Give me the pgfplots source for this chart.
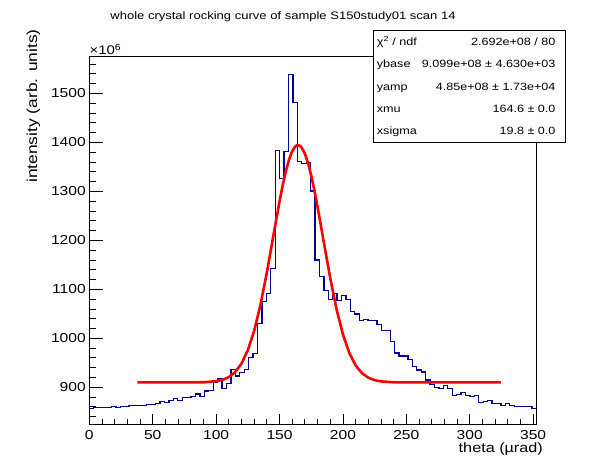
\documentclass[border=0pt]{standalone}
\usepackage{fontspec}
\setmainfont{Liberation Sans}[FakeStretch=1.2]
\usepackage{pgfplots}
\pgfplotsset{compat=1.18}
\definecolor{histblue}{RGB}{0,0,153}
\pgfplotstableread{
x y
0 856
3.49 858
6.98 858
10.47 858
13.96 858
17.45 860.4
20.94 859
24.43 861
27.92 861
31.41 863
34.90 863
38.39 863
41.88 863
45.37 865
48.86 865
52.35 867
55.84 870.6
59.33 869
62.82 873
66.31 876.8
69.80 873
73.29 879.6
76.78 879.6
80.27 881.6
83.76 886
87.25 881.6
90.74 892.4
94.23 894
97.72 910
101.21 917
104.70 898
108.19 907
111.68 936.7
115.17 923
118.66 930.6
122.15 936.7
125.64 961
129.13 969
132.62 1030.6
136.11 1074.7
139.60 1091.8
143.09 1142.9
146.58 1383.7
150.07 1326.5
153.56 1381.6
157.05 1538.8
160.54 1481.6
164.03 1361.2
167.52 1357.1
171.01 1359.2
174.50 1301
177.99 1159.8
181.48 1125.7
184.97 1097.1
188.46 1079.6
191.95 1091.8
195.44 1076.7
198.93 1087.8
202.42 1079.6
205.91 1055
209.40 1049.6
212.89 1036.7
216.38 1038.8
219.87 1036.7
223.36 1036.7
226.85 1028.6
230.34 1016.3
233.83 1016.3
237.32 993.9
240.81 970
244.30 963.9
247.79 963.9
251.28 957.1
254.77 942
258.26 935.3
261.75 931.2
265.24 914.9
268.73 906.1
272.22 900
275.71 898
279.20 904
282.69 898
286.18 883.7
289.67 885
293.16 889.8
296.65 883.7
300.14 881.6
303.63 883.7
307.12 869.4
310.61 871.4
314.10 873.5
317.59 867.3
321.08 867.3
324.57 863.3
328.06 867.3
331.55 863.3
335.04 861.2
338.53 861.2
342.02 861.2
345.51 861.2
349.00 857.1
352.49 857.1
}\histdata
\begin{document}
\begin{tikzpicture}[x=1pt,y=1pt]
\path[use as bounding box] (0,0) rectangle (596,472);
\begin{axis}[at={(89.3pt,48pt)}, anchor=south west, scale only axis,
  width=447pt, height=367.3pt,
  xmin=0, xmax=352.5, ymin=825, ymax=1575,
  axis line style={line width=0.9pt},
  xtick=\empty,
  ytick={900,1000,...,1500}, minor ytick={840,860,...,1560},
  ytick pos=left, tick align=inside,
  major tick length=13.4pt, minor tick length=6.7pt,
  tick style={black, line width=0.8pt},
  yticklabel style={font=\fontsize{13}{13}\selectfont},
  /pgf/number format/assume math mode=true,
  /pgf/number format/1000 sep={},
  scaled y ticks=false,
]
\addplot[const plot mark left, histblue, line width=1.3pt, no marks] table[x=x,y=y] {\histdata};
\addplot[red, line width=2.6pt, no marks, line join=round] coordinates {
(38,909.9) (80,909.95) (90,910.3) (100,912.3) (105,915.1) (110,920.7) (115,930.9)
(120,948.3) (125,975.5) (130,1015.2) (135,1068.6) (140,1134.1) (145,1207.0)
(150,1279.5) (152.5,1312.3) (155,1341.1) (157.5,1364.7) (160,1382.0) (162.5,1392.2)
(164.6,1394.9) (167,1391.3) (170,1377.2) (172.5,1357.8) (175,1332.4) (177.5,1302.2)
(180,1268.3) (185,1195.1) (190,1122.9) (195,1059.1) (200,1008.0) (205,970.4)
(210,944.9) (215,928.9) (220,919.6) (225,914.5) (230,912.0) (240,910.2)
(250,909.9) (324.5,909.9)};
\end{axis}
\begin{axis}[at={(89.3pt,48pt)}, anchor=south west, scale only axis,
  width=447pt, height=367.3pt,
  xmin=0, xmax=352.5, ymin=825, ymax=1575,
  axis line style={draw=none},
  ytick=\empty,
  xtick={0,50,...,350}, minor xtick={10,20,...,350},
  xtick pos=left, tick align=inside,
  major tick length=10pt, minor tick length=5.5pt,
  tick style={black, line width=0.8pt},
  xticklabel style={font=\fontsize{13}{13}\selectfont, yshift=-3pt},
  /pgf/number format/assume math mode=true,
  /pgf/number format/1000 sep={},
  scaled x ticks=false,
]
\end{axis}
% title and labels
\node[anchor=base, inner sep=0] at (283,452) {\fontsize{10.85}{12}\selectfont whole crystal rocking curve of sample S150study01 scan 14};
\node[anchor=base east, inner sep=0] at (543,19.7) {\fontsize{13.5}{15}\selectfont theta (µrad)};
\node[anchor=base west, inner sep=0, rotate=90] at (37,289) {\fontsize{14.5}{16}\selectfont intensity (arb. units)};
\node[anchor=base west, inner sep=0] at (89.3,417.5) {\fontsize{12.5}{14}\selectfont ×10\textsuperscript{6}};
% stats box
\draw[fill=white, line width=0.9pt] (373.3,329.7) rectangle (565.7,442);
\begin{scope}[every node/.style={inner sep=0, font=\fontsize{10.5}{12}\selectfont}]
\node[anchor=base west] at (376.7,426.4) {χ\textsuperscript{2} / ndf};
\node[anchor=base east] at (555.7,426.4) {2.692e+08 / 80};
\node[anchor=base west] at (376.7,404) {ybase};
\node[anchor=base east] at (555.7,404) {9.099e+08 ± 4.630e+03};
\node[anchor=base west] at (376.7,381.7) {yamp};
\node[anchor=base east] at (555.7,381.7) {4.85e+08 ± 1.73e+04};
\node[anchor=base west] at (376.7,359.4) {xmu};
\node[anchor=base east] at (555.7,359.4) {164.6 ± 0.0};
\node[anchor=base west] at (376.7,337.1) {xsigma};
\node[anchor=base east] at (555.7,337.1) {19.8 ± 0.0};
\end{scope}
\end{tikzpicture}
\end{document}
